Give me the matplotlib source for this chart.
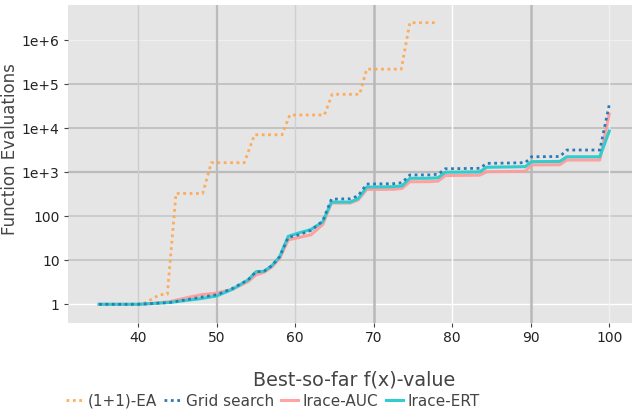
import numpy as np
import matplotlib.pyplot as plt

# (1+1)-EA
x_ea = [35, 40, 41, 42.7, 43.7, 44.8, 48.2, 49.3, 53.5, 54.8, 58.3, 59.3,
        63.7, 64.7, 68.2, 69.1, 73.5, 74.6, 78.1]
y_ea = [1, 1, 1.1, 1.65, 1.7, 330, 330, 1650, 1650, 7100, 7100, 20000,
        20000, 59000, 59000, 220000, 220000, 2.5e6, 2.5e6]

# shared x positions for the three tuned algorithms
x_main = [35, 40, 42, 44, 46.5, 48, 50, 52, 54, 55, 56, 57, 58, 59.1, 60.5,
          62, 63.5, 64.6, 67, 68, 69.1, 72.5, 73.6, 74.6, 77, 78.2, 79.1,
          83.5, 84.4, 89.3, 90.1, 93.7, 94.6, 98.8, 100]
y_grid = [1.0, 1.0, 1.05, 1.1, 1.3, 1.45, 1.65, 2.3, 3.6, 5.5, 5.6, 7.5, 12,
          33, 38, 48, 78, 245, 250, 290, 540, 550, 580, 870, 870, 900, 1200,
          1230, 1590, 1650, 2250, 2280, 3200, 3200, 34000]
y_auc = [1.0, 1.0, 1.05, 1.15, 1.45, 1.65, 1.8, 2.2, 3.3, 4.7, 5.3, 7, 11,
         29, 33, 38, 65, 200, 200, 235, 405, 410, 430, 610, 610, 630, 840,
         860, 1030, 1050, 1470, 1480, 1900, 1900, 21000]
y_ert = [1.0, 1.0, 1.05, 1.1, 1.25, 1.35, 1.55, 2.2, 3.6, 5.5, 5.6, 7.5, 12,
         35, 42, 50, 75, 210, 210, 250, 460, 470, 490, 730, 730, 750, 1000,
         1020, 1300, 1340, 1740, 1760, 2250, 2250, 8600]

x_ticks = [40, 50, 60, 70, 80, 90, 100]
y_ticks = [1, 10, 100, 1e3, 1e4, 1e5, 1e6]
y_tick_labels = ['1', '10', '100', '1e+3', '1e+4', '1e+5', '1e+6']

fig = plt.figure(figsize=(6.32, 4.09), dpi=100)
ax = fig.add_axes([68 / 632, 1 - 322.7 / 409, 1 - 68 / 632, (322.7 - 5) / 409])
ax.set_facecolor('#e5e5e5')
ax.set_yscale('log')
ax.set_xlim(31.04, 102.9)
ax.set_ylim(10 ** -0.418, 10 ** 6.80)

# grid lines drawn one by one (their shades differ in the original)
y_grid_col = ['#ffffff', '#c4c4c4', '#c8c8c8', '#bbbbbb', '#bdbdbd', '#bdbdbd', '#efefef']
y_grid_lw = [1.0, 1.2, 1.2, 1.6, 1.2, 1.2, 1.0]
for v, c, w in zip(y_ticks, y_grid_col, y_grid_lw):
    ax.axhline(v, color=c, lw=w, zorder=0.5)
x_grid_col = ['#cccccc', '#bbbbbb', '#d0d0d0', '#b8b8b8', '#ffffff', '#b8b8b8', '#f0f0f0']
x_grid_lw = [1.0, 1.6, 1.0, 1.8, 1.0, 1.8, 1.0]
for v, c, w in zip(x_ticks, x_grid_col, x_grid_lw):
    ax.axvline(v, color=c, lw=w, zorder=0.5)

ax.plot(x_ea, y_ea, color='#ffa64d', lw=2, ls=(0, (1, 1.3)), alpha=0.9, label='(1+1)-EA')
ax.plot(x_main, y_grid, color='#2d7bb6', lw=2, ls=(0, (1, 1.3)), label='Grid search', zorder=4)
ax.plot(x_main, y_auc, color='#ff9999', lw=2.2, alpha=0.9, label='Irace-AUC', zorder=2)
ax.plot(x_main, y_ert, color='#33cccc', lw=2.2, label='Irace-ERT', zorder=3)

ax.set_xticks(x_ticks)
ax.set_xticklabels([str(t) for t in x_ticks])
ax.set_yticks(y_ticks)
ax.set_yticklabels(y_tick_labels)
ax.minorticks_off()
ax.tick_params(axis='both', labelsize=10, colors='#444444', length=3, width=0.8,
               labelcolor='#222222', pad=3)
for s in ax.spines.values():
    s.set_visible(False)

ax.set_xlabel('Best-so-far f(x)-value', fontsize=13.8, color='#444444')
ax.xaxis.set_label_coords((354 - 68) / 564, -(370 - 322.7) / 317.7)
ax.set_ylabel('Function Evaluations', fontsize=12, color='#444444')
ax.yaxis.set_label_coords(-0.086, 0.547)

handles, labels = ax.get_legend_handles_labels()
fig.legend(handles, labels, loc='center left', bbox_to_anchor=(66 / 632, 1 - 401 / 409),
           ncol=4, frameon=False, fontsize=11, handlelength=1.1, handletextpad=0.3,
           columnspacing=0.5, labelcolor='#444444', borderaxespad=0, borderpad=0)

fig.savefig('out.png', dpi=100)
